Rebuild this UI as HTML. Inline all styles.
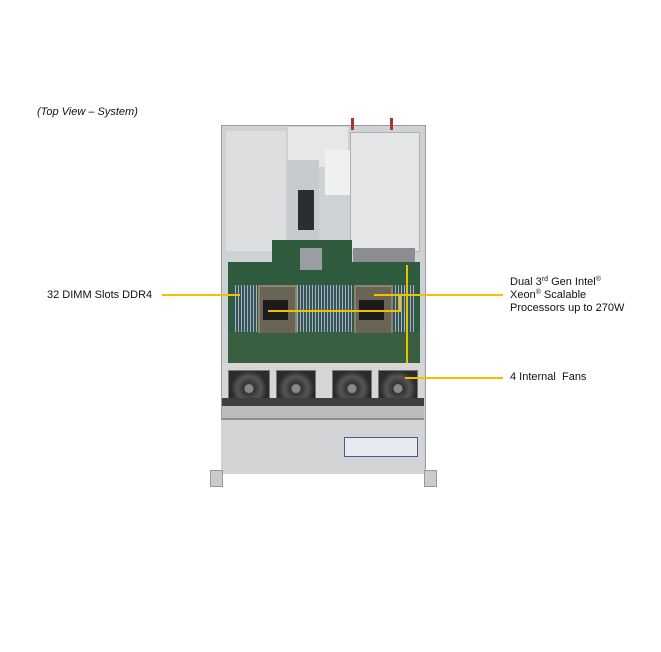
<!DOCTYPE html>
<html><head><meta charset="utf-8"><style>
body{margin:0;width:661px;height:652px;background:#fff;position:relative;overflow:hidden;font-family:"Liberation Sans",Arial,sans-serif;}
.a{position:absolute}
.t{position:absolute;font-size:11px;color:#111;line-height:13px;white-space:nowrap}
.s{font-size:7px;position:relative;top:-4px;line-height:0}
.ln{position:absolute;background:#f2c200}
.dimm{position:absolute;background:repeating-linear-gradient(90deg,#2e5b3d 0 1px,#3b4f72 1px 2px,#a8b0bb 2px 3px);}
.fan{position:absolute;background:radial-gradient(circle at 50% 55%,#888 0 4px,#333 5px,#555 12px,#2b2b2b 18px);border:1px solid #777}
</style></head><body>
<div class="t" style="left:37px;top:106px;font-style:italic">(Top View – System)</div>

<div class="a" style="left:221px;top:125px;width:203px;height:347px;background:#cfd2d4;border:1px solid #9a9da0"></div>
<div class="a" style="left:226px;top:131px;width:60px;height:120px;background:#dcdedf"></div>
<div class="a" style="left:288px;top:127px;width:60px;height:40px;background:#e6e7e7"></div>
<div class="a" style="left:287px;top:160px;width:32px;height:80px;background:#c8cbcd"></div>
<div class="a" style="left:298px;top:190px;width:16px;height:40px;background:#2a2e33"></div>
<div class="a" style="left:325px;top:150px;width:25px;height:45px;background:#eef0f2"></div>
<div class="a" style="left:350px;top:132px;width:68px;height:118px;background:#e4e5e6;border:1px solid #b0b2b4"></div>
<div class="a" style="left:353px;top:248px;width:62px;height:14px;background:#8b8d90"></div>
<div class="a" style="left:351px;top:118px;width:3px;height:12px;background:#a33"></div>
<div class="a" style="left:390px;top:118px;width:3px;height:12px;background:#a33"></div>

<div class="a" style="left:272px;top:240px;width:80px;height:30px;background:#2f5a3c"></div>
<div class="a" style="left:228px;top:262px;width:192px;height:101px;background:#2e5b3d"></div>
<div class="a" style="left:300px;top:248px;width:22px;height:22px;background:#9a9ea3"></div>
<div class="dimm" style="left:233px;top:285px;width:24px;height:47px"></div>
<div class="dimm" style="left:295px;top:285px;width:58px;height:47px"></div>
<div class="dimm" style="left:390px;top:285px;width:25px;height:47px"></div>
<div class="a" style="left:258px;top:285px;width:35px;height:46px;background:#6a6456;border:2px solid #8b8272"></div>
<div class="a" style="left:263px;top:300px;width:25px;height:20px;background:#1b1b1b"></div>
<div class="a" style="left:354px;top:285px;width:35px;height:46px;background:#6a6456;border:2px solid #8b8272"></div>
<div class="a" style="left:359px;top:300px;width:25px;height:20px;background:#1b1b1b"></div>
<div class="a" style="left:228px;top:333px;width:192px;height:30px;background:#3a5e40"></div>

<div class="a" style="left:222px;top:363px;width:202px;height:42px;background:#d6d6d4"></div>
<div class="fan" style="left:228px;top:370px;width:40px;height:32px"></div>
<div class="fan" style="left:276px;top:370px;width:38px;height:32px"></div>
<div class="fan" style="left:332px;top:370px;width:38px;height:32px"></div>
<div class="fan" style="left:378px;top:370px;width:38px;height:32px"></div>
<div class="a" style="left:222px;top:398px;width:202px;height:8px;background:#3c3e40"></div>
<div class="a" style="left:222px;top:406px;width:202px;height:12px;background:#b9bbbd"></div>
<div class="a" style="left:221px;top:418px;width:203px;height:54px;background:#d2d4d5;border-top:2px solid #8c8e90"></div>
<div class="a" style="left:344px;top:437px;width:72px;height:18px;background:#e8eaf0;border:1px solid #4a5a8a"></div>
<div class="a" style="left:210px;top:470px;width:11px;height:15px;background:#c9cbcc;border:1px solid #999"></div>
<div class="a" style="left:424px;top:470px;width:11px;height:15px;background:#c9cbcc;border:1px solid #999"></div>
<div class="a" style="left:406px;top:265px;width:2px;height:98px;background:#e4c400"></div>

<div class="ln" style="left:162px;top:294px;width:78px;height:2px"></div>
<div class="ln" style="left:374px;top:294px;width:129px;height:2px"></div>
<div class="ln" style="left:399px;top:294px;width:2px;height:17px"></div>
<div class="ln" style="left:268px;top:310px;width:133px;height:2px"></div>
<div class="ln" style="left:405px;top:377px;width:98px;height:2px"></div>

<div class="t" style="left:47px;top:289px">32 DIMM Slots DDR4</div>
<div class="t" style="left:510px;top:276px">Dual 3<span class="s">rd</span> Gen Intel<span class="s">®</span></div>
<div class="t" style="left:510px;top:289px">Xeon<span class="s">®</span> Scalable</div>
<div class="t" style="left:510px;top:302px">Processors up to 270W</div>
<div class="t" style="left:510px;top:371px">4 Internal&nbsp; Fans</div>
</body></html>
